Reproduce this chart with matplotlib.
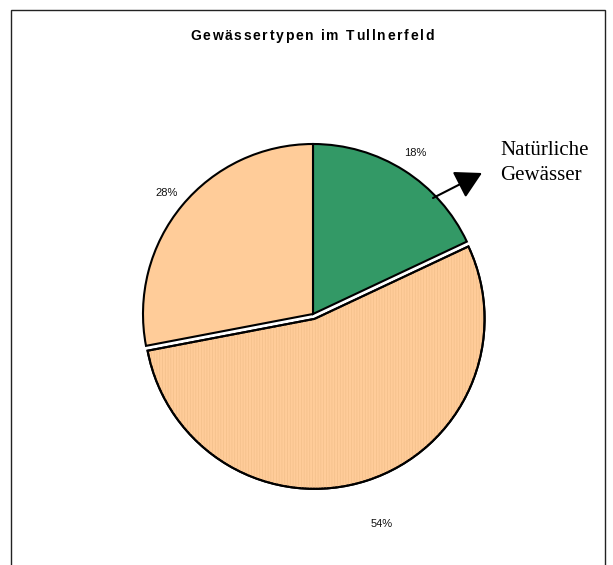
import matplotlib
matplotlib.use('Agg')
import matplotlib.pyplot as plt
from matplotlib.patches import Rectangle, Wedge
from matplotlib.font_manager import FontProperties

W, H = 613, 565
DPI = 100

titel = 'Gewässertypen im Tullnerfeld'
werte = [18, 54, 28]
farben = ['#339966', '#FFCC99', '#FFCC99']
explode = [0, 0.03, 0]
hinweis = ['Natürliche', 'Gewässer']

plt.rcParams['hatch.linewidth'] = 0.5

fig = plt.figure(figsize=(W / DPI, H / DPI), dpi=DPI)
ax = fig.add_axes([0, 0, 1, 1])


def fx(x):
    return x / W


def fy(y):
    return 1 - y / H


# pie centre and radius in pixels
cx, cy = 313, 314
r = 170

wedges, texts, autotexts = ax.pie(
    werte, colors=farben, explode=explode, startangle=90, counterclock=False,
    autopct='%1.0f%%', pctdistance=1.12,
    wedgeprops=dict(edgecolor='black', linewidth=1.5),
    textprops=dict(fontsize=8, family='Liberation Sans', color='#111111'))
ax.set_aspect('auto')
ax.set_xlim(-cx / r, (W - cx) / r)
ax.set_ylim(-(H - cy) / r, cy / r)
ax.axis('off')

# the label of the big slice sits further out
px_, py_ = autotexts[1].get_position()
autotexts[1].set_position((px_ * 1.3 / 1.15, py_ * 1.3 / 1.15))

# faint vertical stripes on the big slice
w = wedges[1]
ax.add_patch(Wedge(w.center, w.r, w.theta1, w.theta2, facecolor='none',
                   edgecolor='#F2BF8A', linewidth=0, hatch='||||||', zorder=1.1))
ax.add_patch(Wedge(w.center, w.r, w.theta1, w.theta2, facecolor='none',
                   edgecolor='black', linewidth=1.5, zorder=1.2))

# outer frame (bottom edge lies below the picture)
fig.patches.append(Rectangle((fx(11), -0.05), fx(605) - fx(11), fy(10) + 0.05,
                             transform=fig.transFigure, fill=False,
                             edgecolor='#222222', linewidth=1))

# title with wide letter spacing
prop = FontProperties(family='Liberation Sans', weight='bold', size=10)
renderer = fig.canvas.get_renderer()


def breite(s):
    return renderer.get_text_width_height_descent(s, prop, ismath=False)[0]


adv = [breite('|' + c + '|') - breite('||') for c in titel]
ziel = 244
track = (ziel - sum(adv)) / (len(titel) - 1)
x = 312 - ziel / 2
for c, a in zip(titel, adv):
    if c != ' ':
        fig.text(fx(x), fy(40), c, fontproperties=prop, ha='left', va='baseline')
    x += a + track

# annotation
ax.annotate('', xy=(fx(482), fy(173)), xytext=(fx(433), fy(198)),
            xycoords='figure fraction', textcoords='figure fraction',
            arrowprops=dict(arrowstyle='-|>,head_length=0.9,head_width=0.5',
                            color='black', lw=1.5, mutation_scale=18,
                            shrinkA=0, shrinkB=0))
fig.text(fx(500), fy(155), hinweis[0], family='Liberation Serif', fontsize=15,
         ha='left', va='baseline')
fig.text(fx(500), fy(180), hinweis[1], family='Liberation Serif', fontsize=15,
         ha='left', va='baseline')

fig.savefig('out.png', dpi=DPI)
